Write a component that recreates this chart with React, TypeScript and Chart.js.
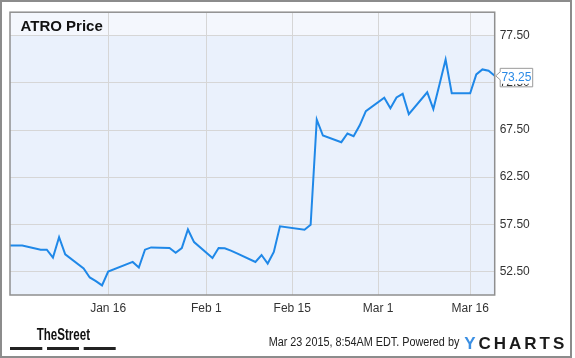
import React, { useEffect, useRef } from "react";
import { Chart, registerables } from "chart.js";

Chart.register(...registerables);

const title = "ATRO Price";
const dates = [
  "2014-12-31", "2015-01-02", "2015-01-05", "2015-01-06", "2015-01-07", "2015-01-08", "2015-01-09",
  "2015-01-12", "2015-01-13", "2015-01-14", "2015-01-15", "2015-01-16", "2015-01-20", "2015-01-21",
  "2015-01-22", "2015-01-23", "2015-01-26", "2015-01-27", "2015-01-28", "2015-01-29", "2015-01-30",
  "2015-02-02", "2015-02-03", "2015-02-04", "2015-02-05", "2015-02-06", "2015-02-09", "2015-02-10",
  "2015-02-11", "2015-02-12", "2015-02-13", "2015-02-17", "2015-02-18", "2015-02-19", "2015-02-20",
  "2015-02-23", "2015-02-24", "2015-02-25", "2015-02-26", "2015-02-27", "2015-03-02", "2015-03-03",
  "2015-03-04", "2015-03-05", "2015-03-06", "2015-03-09", "2015-03-10", "2015-03-11", "2015-03-12",
  "2015-03-13", "2015-03-16", "2015-03-17", "2015-03-18", "2015-03-19", "2015-03-20",
];
const prices = [
  55.26, 55.26, 54.81, 54.81, 53.97, 56.14, 54.32,
  52.81, 51.86, 51.47, 51.02, 52.49, 53.51, 52.92,
  54.81, 55.05, 54.98, 54.49, 54.98, 56.95, 55.61,
  53.93, 54.98, 54.95, 54.71, 54.41, 53.51, 54.24,
  53.34, 54.56, 57.29, 56.92, 57.44, 68.6, 66.92,
  66.21, 67.13, 66.84, 68.0, 69.51, 70.92, 69.82,
  70.95, 71.34, 69.19, 71.51, 69.72, 72.32, 74.98,
  71.4, 71.4, 73.4, 73.93, 73.79, 73.25,
];
const xTickDates = ["2015-01-16", "2015-02-01", "2015-02-15", "2015-03-01", "2015-03-16"];
const xTickLabels = ["Jan 16", "Feb 1", "Feb 15", "Mar 1", "Mar 16"];
const yTicks = [52.5, 57.5, 62.5, 67.5, 72.5, 77.5];
const yMin = 50;
const yMax = 80;
const xMinDate = "2014-12-31";
const xMaxDate = "2015-03-20";
const lastLabel = "73.25";
const stampText = "Mar 23 2015, 8:54AM EDT. Powered by";
const brandLeft = "TheStreet";
const brandRightFirst = "Y";
const brandRightRest = "CHARTS";

const FONT = "'Liberation Sans', Arial, sans-serif";

function dayOf(d: string): number {
  return (Date.parse(d + "T00:00:00Z") - Date.parse("2015-01-01T00:00:00Z")) / 86400000;
}

const points = dates.map((d, i) => ({ x: dayOf(d), y: prices[i] }));
const xTickValues = xTickDates.map(dayOf);

const decor = {
  id: "decor",
  beforeDraw(chart: any) {
    const { ctx, chartArea: a, scales } = chart;
    ctx.save();
    ctx.fillStyle = "#ffffff";
    ctx.fillRect(0, 0, chart.width, chart.height);
    ctx.fillStyle = "#eaf1fc";
    ctx.fillRect(a.left, a.top, a.right - a.left, a.bottom - a.top);
    const hy = scales.y.getPixelForValue(yTicks[yTicks.length - 1]);
    ctx.fillStyle = "#f4f7fd";
    ctx.fillRect(a.left, a.top, a.right - a.left, hy - a.top);
    ctx.restore();
  },
  afterDraw(chart: any) {
    const { ctx, chartArea: a, scales } = chart;
    ctx.save();
    // plot border
    ctx.strokeStyle = "#8f8f8f";
    ctx.lineWidth = 1.5;
    ctx.strokeRect(a.left, a.top, a.right - a.left, a.bottom - a.top);

    // title
    ctx.fillStyle = "#111111";
    ctx.font = `bold 15px ${FONT}`;
    ctx.textBaseline = "alphabetic";
    ctx.textAlign = "left";
    ctx.fillText(title, a.left + 10.5, a.top + 18.5);

    // last value box
    const px = scales.x.getPixelForValue(points[points.length - 1].x);
    const py = scales.y.getPixelForValue(points[points.length - 1].y);
    const bx = px + 5.5;
    const by = py - 7.5;
    const bw = 32.5;
    const bh = 18.5;
    ctx.beginPath();
    ctx.moveTo(bx, by);
    ctx.lineTo(bx + bw, by);
    ctx.lineTo(bx + bw, by + bh);
    ctx.lineTo(bx, by + bh);
    ctx.lineTo(bx, py + 4);
    ctx.lineTo(px + 1, py);
    ctx.lineTo(bx, py - 4);
    ctx.closePath();
    ctx.fillStyle = "#ffffff";
    ctx.fill();
    ctx.strokeStyle = "#9a9a9a";
    ctx.lineWidth = 1;
    ctx.stroke();
    ctx.fillStyle = "#2a8ae6";
    ctx.font = `12px ${FONT}`;
    ctx.textAlign = "center";
    ctx.textBaseline = "middle";
    ctx.fillText(lastLabel, bx + bw / 2, by + bh / 2 + 0.5);

    // the covered tick label peeks out at the bottom edge of the box
    ctx.save();
    ctx.beginPath();
    ctx.rect(bx, by + bh - 3, bw + 2, 10);
    ctx.clip();
    ctx.fillStyle = "#333333";
    ctx.textAlign = "left";
    yTicks.forEach((v) => {
      const ty = scales.y.getPixelForValue(v);
      if (ty > by && ty < by + bh + 8) ctx.fillText(v.toFixed(2), a.right + 5, ty);
    });
    ctx.restore();

    // footer left brand
    ctx.textAlign = "left";
    ctx.textBaseline = "alphabetic";
    ctx.fillStyle = "#111111";
    ctx.font = `bold 16px ${FONT}`;
    const tw = ctx.measureText(brandLeft).width;
    ctx.save();
    ctx.translate(36.7, 340);
    ctx.scale(53.3 / tw, 1);
    ctx.fillText(brandLeft, 0, 0);
    ctx.restore();
    ctx.fillStyle = "#222222";
    ctx.fillRect(10, 347, 32.3, 3);
    ctx.fillRect(47, 347, 32, 3);
    ctx.fillRect(83.7, 347, 32, 3);

    // stamp text
    ctx.fillStyle = "#222222";
    ctx.font = `12px ${FONT}`;
    const sw = ctx.measureText(stampText).width;
    ctx.save();
    ctx.translate(268.7, 346);
    ctx.scale(Math.min(1, 190.6 / sw), 1);
    ctx.fillText(stampText, 0, 0);
    ctx.restore();

    // YCHARTS
    ctx.font = `bold 17px ${FONT}`;
    const letters = (brandRightFirst + brandRightRest).split("");
    const widths = letters.map((c) => ctx.measureText(c).width);
    const total = widths.reduce((s, w) => s + w, 0);
    const gap = (100 - total) / (letters.length - 1);
    let cx = 464.3;
    letters.forEach((c, i) => {
      ctx.fillStyle = i === 0 ? "#3b8fe3" : "#1a1a1a";
      ctx.fillText(c, cx, 349.3);
      cx += widths[i] + gap;
    });

    // outer border
    ctx.strokeStyle = "#8c8c8c";
    ctx.lineWidth = 2;
    ctx.strokeRect(1, 1, 570, 356);
    ctx.restore();
  },
};

export default function App() {
  const ref = useRef<HTMLCanvasElement>(null);
  useEffect(() => {
    document.body.style.margin = "0";
    const canvas = ref.current!;
    const chart = new Chart(canvas, {
      type: "line",
      data: {
        datasets: [
          {
            data: points,
            borderColor: "#1f88e8",
            borderWidth: 2,
            pointRadius: 0,
            tension: 0,
            fill: false,
          },
        ],
      },
      options: {
        responsive: false,
        animation: false,
        devicePixelRatio: 1,
        layout: { padding: { left: 10, top: 10, right: 0, bottom: 0 } },
        plugins: { legend: { display: false }, tooltip: { enabled: false }, title: { display: false } },
        scales: {
          x: {
            type: "linear",
            min: dayOf(xMinDate),
            max: dayOf(xMaxDate),
            afterBuildTicks: (s: any) => {
              s.ticks = xTickValues.map((v) => ({ value: v }));
            },
            afterFit: (s: any) => {
              s.height = 63;
            },
            ticks: {
              autoSkip: false,
              maxRotation: 0,
              padding: 6,
              color: "#333333",
              font: { size: 12, family: FONT },
              callback: (v: any) => {
                const i = xTickValues.indexOf(Number(v));
                return i >= 0 ? xTickLabels[i] : "";
              },
            },
            grid: { color: "#d6d6d6", lineWidth: 1, drawTicks: false },
            border: { display: false },
          },
          y: {
            type: "linear",
            position: "right",
            min: yMin,
            max: yMax,
            afterBuildTicks: (s: any) => {
              s.ticks = yTicks.map((v) => ({ value: v }));
            },
            afterFit: (s: any) => {
              s.width = 80.3;
            },
            ticks: {
              padding: 5,
              color: "#333333",
              font: { size: 12, family: FONT },
              callback: (v: any) => Number(v).toFixed(2),
            },
            grid: { color: "#d6d6d6", lineWidth: 1, drawTicks: false },
            border: { display: false },
          },
        },
      },
      plugins: [decor],
    } as any);
    return () => chart.destroy();
  }, []);
  return (
    <canvas
      ref={ref}
      width={575}
      height={358}
      style={{ display: "block", width: 575, height: 358 }}
    />
  );
}
